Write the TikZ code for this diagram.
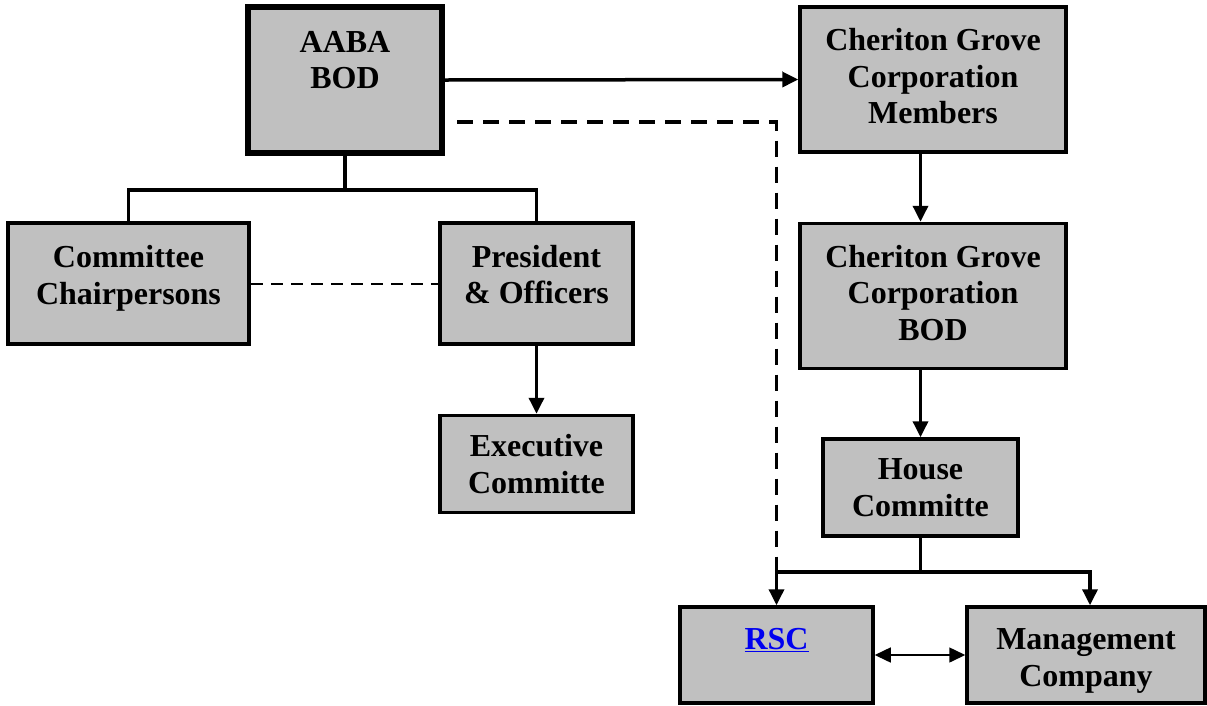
\documentclass[tikz,border=0pt]{standalone}
\usepackage{fontspec}
\setmainfont{Liberation Serif}
\usetikzlibrary{arrows.meta,positioning}

\begin{document}
\begin{tikzpicture}[x=1pt,y=-1pt,>={Triangle[length=16pt,width=15pt]},
  line width=3.5pt,node distance=68pt,
  box/.style={rectangle,draw,fill=boxgray,line width=3.5pt,align=center,
    font=\fontsize{32}{36.5}\selectfont\bfseries,inner sep=0pt},
  txt node/.style={align=center,font=\fontsize{32}{36.5}\selectfont\bfseries,inner sep=0pt},
  thick dash/.style={dash pattern=on 16pt off 10pt},
  thin dash/.style={line width=2pt,dash pattern=on 12pt off 8pt}]
  \definecolor{boxgray}{HTML}{C0C0C0}
  \definecolor{linkblue}{HTML}{0000F0}
  \useasboundingbox (0,0) rectangle (1207,705);

  % left side
  \node[box,line width=6pt,minimum width=194,minimum height=146] (aaba) at (345,80) {};
  \node[txt node] (aaba-t) at ([yshift=20pt]aaba.center) {AABA\\BOD};
  \node[box,minimum width=241,minimum height=121] (chair) at (128.5,283.5) {};
  \node[txt node] (chair-t) at ([yshift=5pt]chair.center) {Committee\\Chairpersons};
  \node[box,minimum width=193,minimum height=121] (pres) at (536.5,283.5) {};
  \node[txt node] (pres-t) at ([yshift=9pt]pres.center) {President\\\& Officers};
  \node[box,minimum width=193,minimum height=97] (exec) [below=of pres] {Executive\\Committe};

  % right side
  \node[box,minimum width=266,minimum height=145] (cgm) at (933,79.5) {};
  \node[txt node] (cgm-t) at ([yshift=3pt]cgm.center) {Cheriton Grove\\Corporation\\Members};
  \node[box,minimum width=266,minimum height=145] (cgbod) [below=of cgm] {};
  \node[txt node] (cgbod-t) at ([yshift=3pt]cgbod.center) {Cheriton Grove\\Corporation\\BOD};
  \node[box,minimum width=195,minimum height=97] (house) at (920.5,487.5) {House\\Committe};
  \node[box,minimum width=193,minimum height=96] (rsc) at (776.5,655) {};
  \node[txt node,text=linkblue] (rsc-t) at ([yshift=15pt]rsc.center) {\underline{RSC}};
  \node[box,minimum width=238,minimum height=96] (mgmt) at (1086,655) {};
  \node[txt node] (mgmt-t) at ([yshift=-6pt]mgmt.center) {Management\\Company};

  % connectors
  \draw[->] (aaba.east) -- (cgm.west);
  \draw (aaba.south) -- ++(0,34) coordinate (fork);
  \draw (chair.north) |- (fork) -| (pres.north);
  \draw[thin dash] (chair.east) -- (pres.west);
  \draw[->] (pres.south) -- (exec.north);
  \draw[->] (cgm.south -| house.north) -- (cgbod.north -| house.north);
  \draw[->] (cgbod.south -| house.north) -- (house.north);
  \draw (house.south) -- ++(0,34) coordinate (hfork);
  \coordinate (dstart) at ([shift={(12,42)}]aaba.east);
  \draw[thick dash] (dstart) -| (rsc.north |- hfork);
  \draw[->] (hfork) -| (rsc.north);
  \draw[->] (hfork) -| ([xshift=4pt]mgmt.north);
  \draw[<->,line width=1.5pt] (rsc.east) -- (mgmt.west);
\end{tikzpicture}
\end{document}
